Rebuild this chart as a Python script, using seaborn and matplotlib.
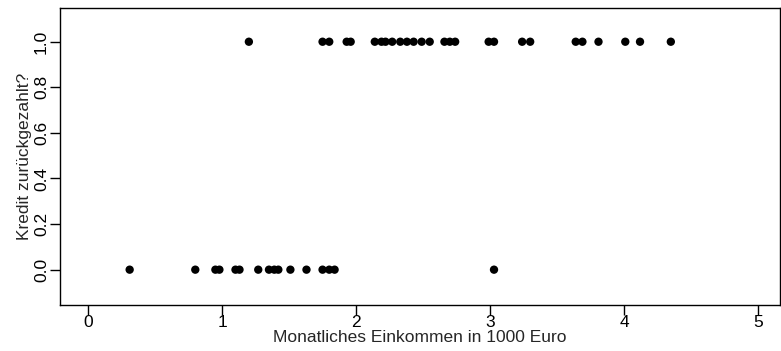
import pandas as pd
import matplotlib
matplotlib.use("Agg")
import matplotlib.pyplot as plt
import seaborn as sns

# income (1000 Euro) of borrowers who repaid / did not repay
income_repaid = [1.20, 1.75, 1.80, 1.93, 1.96, 2.14, 2.19, 2.22, 2.27, 2.33,
                 2.38, 2.43, 2.49, 2.55, 2.66, 2.70, 2.74, 2.99, 3.03, 3.24,
                 3.30, 3.64, 3.69, 3.81, 4.01, 4.12, 4.35]
income_default = [0.31, 0.80, 0.95, 0.98, 1.10, 1.13, 1.27, 1.35, 1.39, 1.42,
                  1.51, 1.63, 1.75, 1.80, 1.84, 3.03]

df = pd.DataFrame({
    "einkommen": income_repaid + income_default,
    "zurueck": [1.0] * len(income_repaid) + [0.0] * len(income_default),
})

sns.set_style("white")
plt.rcParams["font.family"] = ["Liberation Sans", "DejaVu Sans"]

fig = plt.figure(figsize=(7.81, 3.51), dpi=100)
ax = fig.add_axes([60 / 781, 46 / 351, 720 / 781, 297 / 351])

sns.scatterplot(data=df, x="einkommen", y="zurueck", color="black",
                s=36, edgecolor="none", ax=ax)

ax.set_xlim(-0.21, 5.165)
ax.set_ylim(-0.155, 1.148)
ax.set_xticks([0, 1, 2, 3, 4, 5])
ax.set_yticks([0.0, 0.2, 0.4, 0.6, 0.8, 1.0])
ax.set_yticklabels(["0.0", "0.2", "0.4", "0.6", "0.8", "1.0"], rotation=90, va="center")
ax.tick_params(axis="both", direction="out", length=7, width=1, labelsize=12.5,
               bottom=True, left=True, colors="black")
ax.tick_params(axis="x", pad=0.5)
ax.tick_params(axis="y", pad=1)
for sp in ax.spines.values():
    sp.set_color("black")
    sp.set_linewidth(1)

ax.set_xlabel("Monatliches Einkommen in 1000 Euro", fontsize=12.5, labelpad=0)
ax.set_ylabel("Kredit zurückgezahlt?", fontsize=12.5, labelpad=1)

fig.savefig("out.png", dpi=100)
